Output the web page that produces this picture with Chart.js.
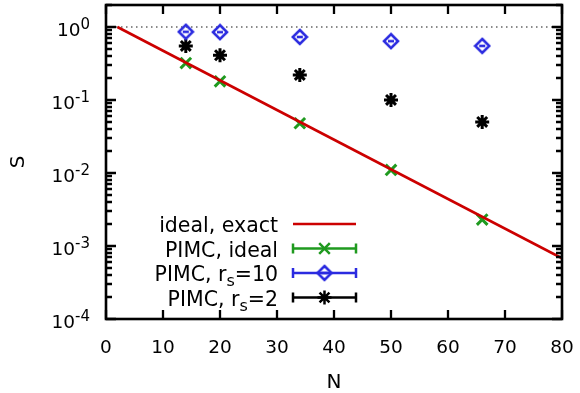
<!DOCTYPE html>
<html>
<head>
<meta charset="utf-8">
<script src="https://cdn.jsdelivr.net/npm/chart.js@4.4.1/dist/chart.umd.min.js"></script>
<style>
  body { margin: 0; background: #fff; }
  #wrap { width: 580px; height: 393px; }
</style>
</head>
<body>
<div id="wrap"><canvas id="chart" width="580" height="393"></canvas></div>
<script>
// particle numbers
const nValues = [14, 20, 34, 50, 66];
// sign S
const pimcIdeal = [0.32, 0.18, 0.048, 0.011, 0.0023];
const pimcRs10 = [0.86, 0.85, 0.73, 0.64, 0.55];
const pimcRs2 = [0.55, 0.41, 0.22, 0.10, 0.050];
// exact ideal curve (straight on log axis), end points
const exactN = [2, 80];
const exactS = [1.0, 0.00068];
const xTicks = [0, 10, 20, 30, 40, 50, 60, 70, 80];
const yDecades = [-4, -3, -2, -1, 0];

const RED = '#cc0000', GREEN = '#1f9a1f', BLUE = '#2b2be0', BLACK = '#000000';
const FONT = '"DejaVu Sans", sans-serif';

function diamondImage(color) {
    const c = document.createElement('canvas');
    c.width = 18; c.height = 18;
    const g = c.getContext('2d');
    g.strokeStyle = color;
    g.lineWidth = 2.6;
    g.beginPath();
    g.moveTo(9, 2); g.lineTo(16, 9); g.lineTo(9, 16); g.lineTo(2, 9); g.closePath();
    g.stroke();
    g.beginPath();
    g.moveTo(6, 9); g.lineTo(12, 9);
    g.stroke();
    return c;
}
const diamond = diamondImage(BLUE);

const pts = (xs, ys) => xs.map((x, i) => ({ x: x, y: ys[i] }));

// ticks, frame, tick labels and legend, drawn gnuplot style
const decorPlugin = {
    id: 'decor',
    afterDraw(chart) {
        const ctx = chart.ctx;
        const a = chart.chartArea;
        const xs = chart.scales.x, ys = chart.scales.y;
        ctx.save();
        ctx.strokeStyle = '#000';
        ctx.lineWidth = 2.3;
        // x ticks bottom and top
        xTicks.forEach(v => {
            const px = Math.round(xs.getPixelForValue(v));
            ctx.beginPath();
            ctx.moveTo(px, a.bottom); ctx.lineTo(px, a.bottom - 9);
            ctx.moveTo(px, a.top); ctx.lineTo(px, a.top + 9);
            ctx.stroke();
        });
        // y ticks left and right
        yDecades.forEach(d => {
            for (let m = 1; m <= 9; m++) {
                const v = m * Math.pow(10, d);
                if (v > ys.max || v < ys.min) continue;
                const py = Math.round(ys.getPixelForValue(v));
                const len = m === 1 ? 10 : 6;
                ctx.beginPath();
                ctx.moveTo(a.left, py); ctx.lineTo(a.left + len, py);
                ctx.moveTo(a.right, py); ctx.lineTo(a.right - len, py);
                ctx.stroke();
            }
        });
        // frame
        ctx.lineWidth = 2.6;
        ctx.strokeRect(a.left, a.top, a.right - a.left, a.bottom - a.top);

        ctx.fillStyle = '#000';
        // x labels
        ctx.font = '18.5px ' + FONT;
        ctx.textAlign = 'center';
        ctx.textBaseline = 'alphabetic';
        xTicks.forEach(v => {
            ctx.fillText(String(v), xs.getPixelForValue(v), a.bottom + 34);
        });
        // y labels 10^d
        yDecades.forEach(d => {
            const py = ys.getPixelForValue(Math.pow(10, d));
            ctx.font = '15px ' + FONT;
            const ew = ctx.measureText(String(d)).width;
            ctx.font = '18.5px ' + FONT;
            ctx.textAlign = 'right';
            ctx.fillText('10', a.left - 16 - ew, py + 9);
            ctx.font = '15px ' + FONT;
            ctx.textAlign = 'left';
            ctx.fillText(String(d), a.left - 16 - ew, py + 2);
        });
        // axis titles
        ctx.font = '20px ' + FONT;
        ctx.textAlign = 'center';
        ctx.fillText('N', (a.left + a.right) / 2, 388);
        ctx.save();
        ctx.translate(24, 162);
        ctx.rotate(-Math.PI / 2);
        ctx.fillText('S', 0, 0);
        ctx.restore();

        // legend
        const rows = [
            { parts: [['ideal, exact', 0]], color: RED, bars: false, ds: null },
            { parts: [['PIMC, ideal', 0]], color: GREEN, bars: true, ds: 1 },
            { parts: [['PIMC, r', 0], ['s', 1], ['=10', 0]], color: BLUE, bars: true, ds: 2 },
            { parts: [['PIMC, r', 0], ['s', 1], ['=2', 0]], color: BLACK, bars: true, ds: 3 }
        ];
        const textRight = 278, x0 = 293, x1 = 356;
        rows.forEach((r, i) => {
            const y = 224 + i * 24.5;
            // text, right aligned
            let w = 0;
            r.parts.forEach(p => {
                ctx.font = (p[1] ? '16px ' : '20.5px ') + FONT;
                w += ctx.measureText(p[0]).width;
            });
            let tx = textRight - w;
            ctx.textAlign = 'left';
            r.parts.forEach(p => {
                ctx.font = (p[1] ? '16px ' : '20.5px ') + FONT;
                ctx.fillText(p[0], tx, y + 8 + (p[1] ? 5 : 0));
                tx += ctx.measureText(p[0]).width;
            });
            // sample
            ctx.strokeStyle = r.color;
            ctx.lineWidth = 2.5;
            ctx.beginPath();
            ctx.moveTo(x0, y); ctx.lineTo(x1, y);
            if (r.bars) {
                ctx.moveTo(x0, y - 5); ctx.lineTo(x0, y + 5);
                ctx.moveTo(x1, y - 5); ctx.lineTo(x1, y + 5);
            }
            ctx.stroke();
            if (r.ds !== null) {
                const el = chart.getDatasetMeta(r.ds).data[0];
                const o = el.options;
                Chart.helpers.drawPoint(ctx, {
                    pointStyle: o.pointStyle, radius: o.radius, rotation: 0,
                    borderWidth: o.borderWidth
                }, (x0 + x1) / 2, y);
                ctx.fillStyle = '#000';
            }
            ctx.strokeStyle = '#000';
        });
        ctx.restore();
    }
};

new Chart(document.getElementById('chart'), {
    type: 'line',
    data: {
        datasets: [
            {
                label: 'ideal, exact',
                data: pts(exactN, exactS),
                borderColor: RED, borderWidth: 2.6, pointRadius: 0, fill: false
            },
            {
                label: 'PIMC, ideal',
                data: pts(nValues, pimcIdeal),
                showLine: false, pointStyle: 'crossRot', pointRadius: 7.5,
                borderColor: GREEN, backgroundColor: GREEN, pointBorderWidth: 3
            },
            {
                label: 'PIMC, rs=10',
                data: pts(nValues, pimcRs10),
                showLine: false, pointStyle: diamond, pointRadius: 9,
                borderColor: BLUE, backgroundColor: BLUE
            },
            {
                label: 'PIMC, rs=2',
                data: pts(nValues, pimcRs2),
                showLine: false, pointStyle: 'star', pointRadius: 7,
                borderColor: BLACK, backgroundColor: BLACK, pointBorderWidth: 3
            },
            {
                label: 'one',
                data: pts([0, 80], [1, 1]),
                borderColor: '#666', borderWidth: 1.6, borderDash: [1.5, 3.5],
                pointRadius: 0, fill: false
            }
        ]
    },
    options: {
        responsive: false,
        animation: false,
        layout: { autoPadding: false, padding: { left: 0, right: 18, top: 5, bottom: 0 } },
        plugins: { legend: { display: false }, tooltip: { enabled: false } },
        scales: {
            x: {
                type: 'linear', min: 0, max: 80,
                grid: { display: false }, border: { display: false },
                ticks: { display: false },
                afterFit: s => { s.height = 74; }
            },
            y: {
                type: 'logarithmic', min: 1e-4, max: 2,
                grid: { display: false }, border: { display: false },
                ticks: { display: false },
                afterFit: s => { s.width = 106; }
            }
        }
    },
    plugins: [decorPlugin]
});
</script>
</body>
</html>
